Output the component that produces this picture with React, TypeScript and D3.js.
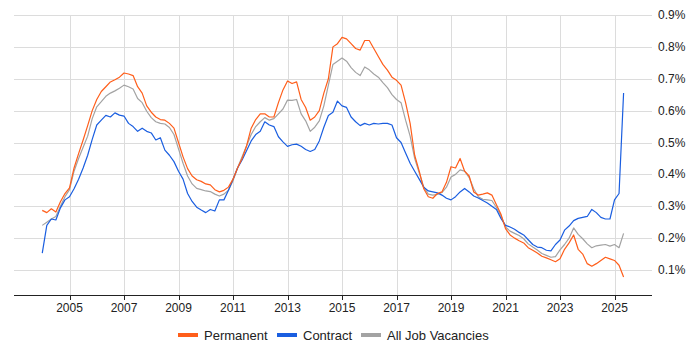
import * as d3 from 'd3';

const WIDTH = 700;
const HEIGHT = 350;

// samples every two months, starting Jan 2004
const START_YEAR = 2004;
const STEP = 1 / 6;

const permanent = [
  0.287, 0.28, 0.292, 0.282, 0.314, 0.34, 0.358, 0.42, 0.465, 0.508, 0.553, 0.6,
  0.635, 0.66, 0.675, 0.69, 0.697, 0.705, 0.718, 0.715, 0.71, 0.675, 0.655, 0.615,
  0.595, 0.58, 0.572, 0.57, 0.56, 0.545, 0.5, 0.455, 0.418, 0.395, 0.383, 0.378,
  0.37, 0.367, 0.352, 0.345, 0.35, 0.36, 0.385, 0.42, 0.45, 0.49, 0.545, 0.572,
  0.59, 0.59, 0.58, 0.58, 0.625, 0.665, 0.693, 0.685, 0.69, 0.635, 0.61, 0.57,
  0.58, 0.6, 0.655, 0.7, 0.8, 0.81, 0.83, 0.825, 0.81, 0.795, 0.79, 0.82,
  0.82, 0.795, 0.77, 0.745, 0.727, 0.705, 0.695, 0.68, 0.625, 0.56, 0.46, 0.41,
  0.355, 0.33, 0.325, 0.34, 0.345, 0.375, 0.424, 0.42, 0.45, 0.41, 0.395, 0.345,
  0.335, 0.338, 0.342, 0.335, 0.305, 0.275, 0.23, 0.21, 0.2, 0.192, 0.185, 0.17,
  0.162, 0.153, 0.143, 0.138, 0.132, 0.126, 0.135, 0.165, 0.185, 0.21, 0.165, 0.15,
  0.12, 0.112, 0.12, 0.13, 0.14, 0.135, 0.13, 0.115, 0.078,
];

const contract = [
  0.153, 0.24, 0.26, 0.257, 0.295, 0.32, 0.33, 0.355, 0.385, 0.42, 0.46, 0.51,
  0.555, 0.57, 0.585, 0.58, 0.593, 0.586, 0.583, 0.56, 0.55, 0.535, 0.545, 0.535,
  0.53, 0.508, 0.515, 0.476, 0.46, 0.44, 0.41, 0.385, 0.34, 0.315, 0.297, 0.288,
  0.28, 0.29, 0.285, 0.32, 0.32, 0.35, 0.385, 0.42, 0.445, 0.475, 0.505, 0.525,
  0.535, 0.565, 0.555, 0.55, 0.518, 0.502, 0.488, 0.493, 0.495, 0.488, 0.478, 0.472,
  0.478, 0.505, 0.548, 0.585, 0.595, 0.63, 0.615, 0.61, 0.58, 0.565, 0.553, 0.56,
  0.555, 0.56, 0.558, 0.56, 0.56, 0.555, 0.515, 0.5, 0.467, 0.435, 0.41, 0.385,
  0.36, 0.348, 0.345, 0.342, 0.335, 0.325, 0.32, 0.33, 0.345, 0.356, 0.345, 0.332,
  0.326, 0.318, 0.31, 0.3, 0.29, 0.262, 0.24, 0.235, 0.228, 0.218, 0.21, 0.195,
  0.18, 0.172, 0.17, 0.162, 0.16, 0.18, 0.194, 0.225, 0.238, 0.255, 0.262, 0.265,
  0.268, 0.29, 0.28, 0.265, 0.26, 0.26, 0.32, 0.34, 0.655,
];

const allJobs = [
  0.24, 0.25, 0.26, 0.268, 0.3, 0.33, 0.352, 0.41, 0.45, 0.485, 0.52, 0.575,
  0.612, 0.628, 0.645, 0.655, 0.662, 0.67, 0.68, 0.675, 0.668, 0.638, 0.625, 0.598,
  0.578, 0.565, 0.56, 0.558, 0.547, 0.525, 0.48, 0.435, 0.395, 0.37, 0.356, 0.352,
  0.348, 0.346, 0.338, 0.332, 0.338, 0.35, 0.38, 0.42, 0.455, 0.49, 0.525, 0.55,
  0.565, 0.578, 0.57, 0.575, 0.59, 0.605, 0.633, 0.632, 0.635, 0.59, 0.568, 0.535,
  0.548, 0.568, 0.615, 0.68, 0.745, 0.755, 0.765, 0.755, 0.735, 0.72, 0.71, 0.737,
  0.728, 0.715, 0.705, 0.688, 0.672, 0.65, 0.635, 0.625, 0.57, 0.52, 0.45, 0.405,
  0.36, 0.338, 0.335, 0.337, 0.343, 0.36, 0.392, 0.4, 0.414, 0.41, 0.39, 0.355,
  0.33, 0.322, 0.32, 0.318, 0.296, 0.27, 0.235, 0.222, 0.215, 0.208, 0.198, 0.182,
  0.172, 0.163, 0.152, 0.146, 0.14, 0.142, 0.163, 0.18, 0.2, 0.232, 0.212, 0.198,
  0.182, 0.17, 0.176, 0.178, 0.18, 0.175, 0.18, 0.17, 0.215,
];

const yearTicks = [2005, 2007, 2009, 2011, 2013, 2015, 2017, 2019, 2021, 2023, 2025];
const pctTicks = [0.1, 0.2, 0.3, 0.4, 0.5, 0.6, 0.7, 0.8, 0.9];

const seriesList = [
  { name: 'Permanent', values: permanent, color: '#ff5e1a' },
  { name: 'Contract', values: contract, color: '#1a5ee0' },
  { name: 'All Job Vacancies', values: allJobs, color: '#a3a3a3' },
];

const FONT = '"Liberation Sans", Arial, sans-serif';

export default function App() {
  const x = d3.scaleLinear().domain([2002.963, 2026.376]).range([14, 652]);
  const y = d3.scaleLinear().domain([0.0216, 0.9]).range([295, 15]);

  const line = d3
    .line<number>()
    .x((_, i) => x(START_YEAR + i * STEP))
    .y((d) => y(d));

  // legend swatch left edges, items centred under the plot
  const legendX = [178, 277, 361];

  return (
    <svg
      width={WIDTH}
      height={HEIGHT}
      style={{ position: 'absolute', left: 0, top: 0, fontFamily: FONT }}
    >
      <rect width={WIDTH} height={HEIGHT} fill="#fff" />
      <g>
        {pctTicks.map((t) => (
          <line
            key={`h${t}`}
            x1={14}
            x2={652}
            y1={Math.round(y(t)) + 0.5}
            y2={Math.round(y(t)) + 0.5}
            stroke="#dcdcdc"
          />
        ))}
        {yearTicks.map((t) => (
          <line
            key={`v${t}`}
            x1={Math.round(x(t)) + 0.5}
            x2={Math.round(x(t)) + 0.5}
            y1={15}
            y2={295}
            stroke="#dcdcdc"
          />
        ))}
      </g>
      <g fill="none" strokeWidth={1.2} strokeLinejoin="round">
        {[...seriesList].reverse().map((s) => (
          <path key={s.name} d={line(s.values) ?? ''} stroke={s.color} />
        ))}
      </g>
      <g>
        <line x1={14} x2={652} y1={295.5} y2={295.5} stroke="#222" />
        {yearTicks.map((t) => (
          <g key={`xt${t}`}>
            <line
              x1={Math.round(x(t)) + 0.5}
              x2={Math.round(x(t)) + 0.5}
              y1={295}
              y2={300}
              stroke="#222"
            />
            <text
              x={x(t)}
              y={312}
              textAnchor="middle"
              fontSize={12}
              fill="#222"
            >
              {t}
            </text>
          </g>
        ))}
        {pctTicks.map((t) => (
          <text
            key={`yt${t}`}
            x={658}
            y={y(t) + 4}
            fontSize={12}
            fill="#222"
          >
            {`${d3.format('.1f')(t)}%`}
          </text>
        ))}
      </g>
      <g>
        {seriesList.map((s, i) => (
          <g key={`lg${s.name}`}>
            <line
              x1={legendX[i]}
              x2={legendX[i] + 20}
              y1={335}
              y2={335}
              stroke={s.color}
              strokeWidth={4}
            />
            <text x={legendX[i] + 26} y={339.5} fontSize={13} fill="#222">
              {s.name}
            </text>
          </g>
        ))}
      </g>
    </svg>
  );
}
